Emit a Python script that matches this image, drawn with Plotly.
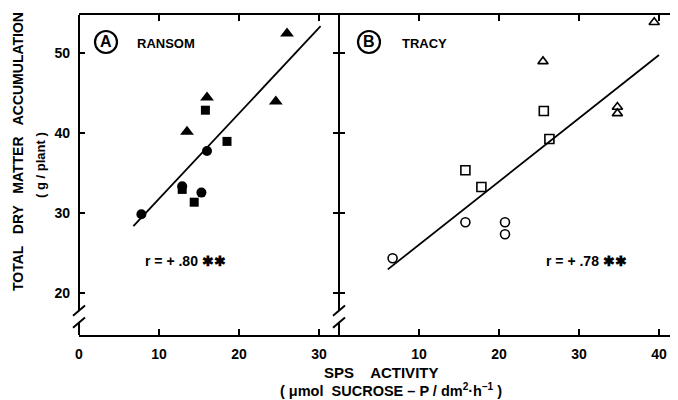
import plotly.graph_objects as go

# ---------------- data ----------------
ransom_tri_x = [13.5, 16.0, 24.6, 26.0]
ransom_tri_y = [40.2, 44.5, 44.0, 52.5]
ransom_sq_x = [15.8, 18.5, 12.9, 14.4]
ransom_sq_y = [42.9, 39.0, 33.0, 31.4]
ransom_circ_x = [16.0, 15.3, 12.9, 7.8]
ransom_circ_y = [37.8, 32.6, 33.4, 29.9]
ransom_fit_x = [6.8, 30.2]
ransom_fit_y = [28.4, 53.4]

tracy_tri_x = [25.5, 34.8, 34.8, 39.4]
tracy_tri_y = [49.0, 43.3, 42.5, 53.9]
tracy_sq_x = [25.6, 26.3, 15.8, 17.8]
tracy_sq_y = [42.8, 39.3, 35.4, 33.3]
tracy_circ_x = [6.7, 15.8, 20.75, 20.75]
tracy_circ_y = [24.4, 28.9, 28.9, 27.4]
tracy_fit_x = [6.1, 40.0]
tracy_fit_y = [23.0, 49.8]

ransom_xticks = [0, 10, 20, 30]
tracy_xticks = [10, 20, 30, 40]
y_ticks = [20, 30, 40, 50]
r_ransom = "r = + .80 ✱✱"
r_tracy = "r = + .78 ✱✱"

# ---------------- figure ----------------
FONT = "Liberation Sans, Arial, sans-serif"
X_RANGE_A = [0, 32.5]
X_RANGE_B = [0, 42.25]
Y_RANGE = [14.8, 54.8]
PW, PH = 598, 320          # plot area size in pixels
SPLIT = 260 / PW

fig = go.Figure()

def add_panel(xa, ya, tri, sq, circ, fit, filled):
    sfx = "" if filled else "-open"
    lw = 0 if filled else 1.6
    fig.add_trace(go.Scatter(x=fit[0], y=fit[1], mode="lines",
                             line=dict(color="black", width=1.8),
                             xaxis=xa, yaxis=ya, showlegend=False))
    fig.add_trace(go.Scatter(x=tri[0], y=tri[1], mode="markers",
                             marker=dict(symbol="triangle-up" + sfx, size=12 if filled else 9,
                                         color="black", line=dict(width=lw, color="black")),
                             xaxis=xa, yaxis=ya, showlegend=False))
    fig.add_trace(go.Scatter(x=sq[0], y=sq[1], mode="markers",
                             marker=dict(symbol="square" + sfx, size=9,
                                         color="black", line=dict(width=lw, color="black")),
                             xaxis=xa, yaxis=ya, showlegend=False))
    fig.add_trace(go.Scatter(x=circ[0], y=circ[1], mode="markers",
                             marker=dict(symbol="circle" + sfx, size=10 if filled else 9,
                                         color="black", line=dict(width=lw, color="black")),
                             xaxis=xa, yaxis=ya, showlegend=False))

add_panel("x", "y", (ransom_tri_x, ransom_tri_y), (ransom_sq_x, ransom_sq_y),
          (ransom_circ_x, ransom_circ_y), (ransom_fit_x, ransom_fit_y), True)
add_panel("x2", "y2", (tracy_tri_x, tracy_tri_y), (tracy_sq_x, tracy_sq_y),
          (tracy_circ_x, tracy_circ_y), (tracy_fit_x, tracy_fit_y), False)

tickfont = dict(family=FONT, size=14, color="black", weight="bold")
xcommon = dict(showgrid=False, zeroline=False, showline=True, linecolor="black",
               linewidth=2, mirror="ticks", ticks="inside", ticklen=6, tickwidth=1.5,
               tickcolor="black", tickfont=tickfont, ticklabelstandoff=5)
ycommon = dict(showgrid=False, zeroline=False, showline=False, mirror="ticks",
               ticks="inside", ticklen=6, tickwidth=1.5, tickcolor="black",
               tickfont=tickfont, range=Y_RANGE, tickvals=y_ticks, ticklabelstandoff=8)

# page body has an 8px margin, so the figure is 8px smaller and margins shifted
fig.update_layout(
    width=670, height=392,
    margin=dict(l=71, r=1, t=7, b=65),
    paper_bgcolor="white", plot_bgcolor="white",
    xaxis=dict(domain=[0, SPLIT], range=X_RANGE_A, tickvals=ransom_xticks, anchor="y", **xcommon),
    xaxis2=dict(domain=[SPLIT, 1], range=X_RANGE_B, tickvals=tracy_xticks, anchor="y2", **xcommon),
    yaxis=dict(anchor="x", **ycommon),
    yaxis2=dict(anchor="x2", showticklabels=False, **ycommon),
)

# y axis lines with breaks (decoration)
BRK_HI, BRK_LO = 17.85, 16.35
for xpos in [0, SPLIT]:
    fig.add_shape(type="line", xref="paper", yref="y", x0=xpos, x1=xpos,
                  y0=BRK_HI, y1=Y_RANGE[1], line=dict(color="black", width=2))
    fig.add_shape(type="line", xref="paper", yref="y", x0=xpos, x1=xpos,
                  y0=Y_RANGE[0], y1=BRK_LO, line=dict(color="black", width=2))
    for yc in [BRK_HI, BRK_LO]:
        fig.add_shape(type="line", xref="paper", yref="y",
                      x0=xpos - 6 / PW, x1=xpos + 6 / PW, y0=yc - 0.65, y1=yc + 0.65,
                      line=dict(color="black", width=2))

def px(xp):   # page x pixel -> paper
    return (xp - 79) / PW

def py(yp):   # page y pixel -> paper
    return (335 - yp) / PH

# circled panel letters
for cxp, letter in [(106, "A"), (369, "B")]:
    cx, cy = px(cxp), py(42)
    fig.add_shape(type="circle", xref="paper", yref="paper",
                  x0=cx - 11 / PW, x1=cx + 11 / PW, y0=cy - 11 / PH, y1=cy + 11 / PH,
                  line=dict(color="black", width=2.2))
    fig.add_annotation(x=cx, y=cy, xref="paper", yref="paper", text=letter, showarrow=False,
                       xanchor="center", yanchor="middle",
                       font=dict(family=FONT, size=16, color="black", weight="bold"))

lblfont = dict(family=FONT, size=13, color="black", weight="bold")
fig.add_annotation(x=px(135), y=py(43), xref="paper", yref="paper",
                   text="RANSOM", showarrow=False, xanchor="left", yanchor="middle", font=lblfont)
fig.add_annotation(x=px(400), y=py(43), xref="paper", yref="paper",
                   text="TRACY", showarrow=False, xanchor="left", yanchor="middle", font=lblfont)

fig.add_annotation(x=8.0, y=24.0, xref="x", yref="y", text=r_ransom, showarrow=False,
                   xanchor="left", yanchor="middle",
                   font=dict(family=FONT, size=14, color="black", weight="bold"))
fig.add_annotation(x=25.6, y=24.0, xref="x2", yref="y2", text=r_tracy, showarrow=False,
                   xanchor="left", yanchor="middle",
                   font=dict(family=FONT, size=14, color="black", weight="bold"))

# axis titles
fig.add_annotation(x=px(18), y=py(152), xref="paper", yref="paper",
                   text="TOTAL   DRY   MATTER   ACCUMULATION", textangle=-90, showarrow=False,
                   xanchor="center", yanchor="middle",
                   font=dict(family=FONT, size=14, color="black", weight="bold"))
fig.add_annotation(x=px(40), y=py(165), xref="paper", yref="paper",
                   text="( g / plant )", textangle=-90, showarrow=False,
                   xanchor="center", yanchor="middle",
                   font=dict(family=FONT, size=13, color="black", weight="bold"))
fig.add_annotation(x=px(381), y=py(372), xref="paper", yref="paper",
                   text="SPS    ACTIVITY", showarrow=False, xanchor="center", yanchor="middle",
                   font=dict(family=FONT, size=15, color="black", weight="bold"))
fig.add_annotation(x=px(391), y=py(390), xref="paper", yref="paper",
                   text="( μmol  SUCROSE – P / dm<sup>2</sup>·h<sup>–1</sup> )", showarrow=False,
                   xanchor="center", yanchor="middle",
                   font=dict(family=FONT, size=14.5, color="black", weight="bold"))

fig.write_html("out.html")
